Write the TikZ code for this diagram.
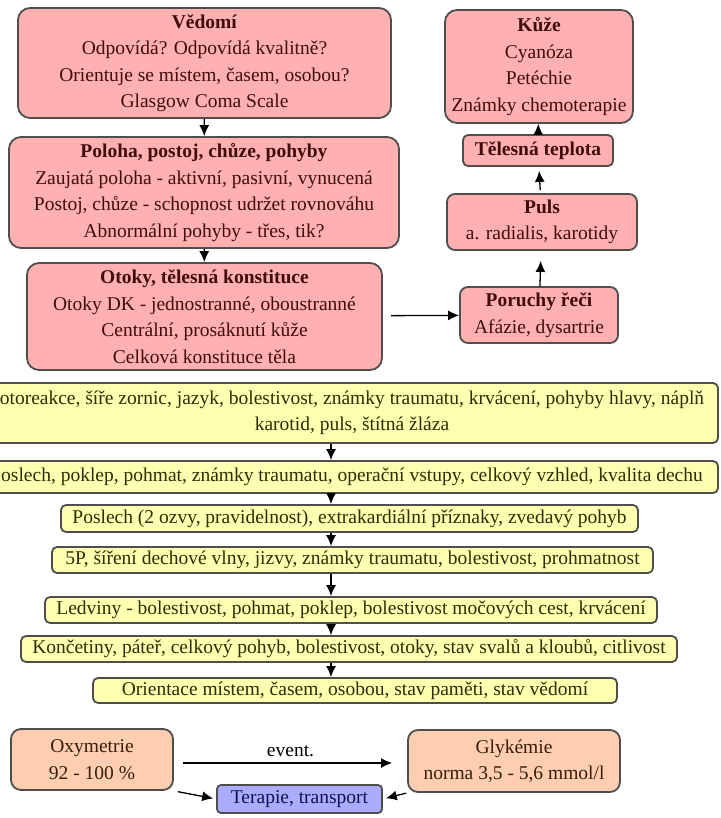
\documentclass[tikz,border=0pt]{standalone}
\usepackage{fontspec}
\setmainfont{Liberation Serif}
\usetikzlibrary{positioning, arrows.meta}

\definecolor{pinkfill}{RGB}{255,176,176}
\definecolor{yellowfill}{RGB}{255,255,178}
\definecolor{orangefill}{RGB}{255,206,176}
\definecolor{bluefill}{RGB}{172,172,255}
\definecolor{boxline}{RGB}{78,78,78}
\definecolor{pinktext}{RGB}{64,12,12}
\definecolor{yellowtext}{RGB}{48,44,0}
\definecolor{orangetext}{RGB}{56,28,10}
\definecolor{bluetext}{RGB}{18,18,78}

\begin{document}
\begin{tikzpicture}[x=1pt, y=-1pt,
    every node/.style={align=center, inner sep=2pt, font=\fontsize{19.5}{26.5}\selectfont},
    box/.style={draw=boxline, line width=1.8pt},
    pinkbox/.style={box, fill=pinkfill, text=pinktext, rounded corners=12pt},
    yellowbox/.style={box, fill=yellowfill, text=yellowtext, rounded corners=5pt},
    orangebox/.style={box, fill=orangefill, text=orangetext, rounded corners=10pt},
    bluebox/.style={box, fill=bluefill, text=bluetext, rounded corners=4pt},
    arr/.style={-{Latex[length=11pt, width=10pt]}, line width=1.3pt}]

    \useasboundingbox (0,0) rectangle (720,818);

    % left column
    \node (ved)  [pinkbox, minimum width=373pt, minimum height=110pt] at (204.5,63)
        {\textbf{Vědomí}\\ Odpovídá? Odpovídá kvalitně?\\ Orientuje se místem, časem, osobou?\\ Glasgow Coma Scale};
    \node (pol)  [pinkbox, minimum width=390pt, minimum height=111pt] at (204,192.5)
        {\textbf{Poloha, postoj, chůze, pohyby}\\ Zaujatá poloha - aktivní, pasivní, vynucená\\ Postoj, chůze - schopnost udržet rovnováhu\\ Abnormální pohyby - třes, tik?};
    \node (oto)  [pinkbox, minimum width=355pt, minimum height=107pt] at (204.5,316.5)
        {\textbf{Otoky, tělesná konstituce}\\ Otoky DK - jednostranné, oboustranné\\ Centrální, prosáknutí kůže\\ Celková konstituce těla};

    % right column
    \node (kuze) [pinkbox, minimum width=188pt, minimum height=113pt] at (539,66.5)
        {\textbf{Kůže}\\ Cyanóza\\ Petéchie\\ Známky chemoterapie};
    \node (tep)  [pinkbox, rounded corners=5pt, minimum width=150pt, minimum height=31pt] at (538,150.5)
        {\textbf{Tělesná teplota}};
    \node (puls) [pinkbox, rounded corners=8pt, minimum width=190pt, minimum height=56pt] at (542,222)
        {\textbf{Puls}\\ a. radialis, karotidy};
    \node (reci) [pinkbox, rounded corners=8pt, minimum width=158pt, minimum height=56pt] at (539,315)
        {\textbf{Poruchy řeči}\\ Afázie, dysartrie};

    % yellow chain
    \node (y1) [yellowbox, minimum width=732pt, minimum height=60pt] at (352,413)
        {otoreakce, šíře zornic, jazyk, bolestivost, známky traumatu, krvácení, pohyby hlavy, náplň\\ karotid, puls, štítná žláza};
    \node (y2) [yellowbox, minimum width=732pt, minimum height=32pt] at (352,477)
        {oslech, poklep, pohmat, známky traumatu, operační vstupy, celkový vzhled, kvalita dechu};
    \node (y3) [yellowbox, minimum width=577pt, minimum height=27pt] at (349.5,518.5)
        {Poslech (2 ozvy, pravidelnost), extrakardiální příznaky, zvedavý pohyb};
    \node (y4) [yellowbox, minimum width=601pt, minimum height=26pt] at (352.5,560)
        {5P, šíření dechové vlny, jizvy, známky traumatu, bolestivost, prohmatnost};
    \node (y5) [yellowbox, minimum width=612pt, minimum height=26pt] at (351,610)
        {Ledviny - bolestivost, pohmat, poklep, bolestivost močových cest, krvácení};
    \node (y6) [yellowbox, minimum width=656pt, minimum height=26pt] at (349,649)
        {Končetiny, páteř, celkový pohyb, bolestivost, otoky, stav svalů a kloubů, citlivost};
    \node (y7) [yellowbox, minimum width=524pt, minimum height=25pt] at (355,690.5)
        {Orientace místem, časem, osobou, stav paměti, stav vědomí};
    \coordinate (axis) at (331,0);

    % bottom row
    \node (oxy) [orangebox, minimum width=162pt, minimum height=61pt] at (92,759.5)
        {Oxymetrie\\ 92 - 100 \%};
    \node (gly) [orangebox, minimum width=212pt, minimum height=62pt] at (514,761)
        {Glykémie\\ norma 3,5 - 5,6 mmol/l};
    \node (ter) [bluebox, minimum width=165pt, minimum height=28pt] at (299.5,799)
        {Terapie, transport};

    \draw[arr] (ved) -- (pol);
    \draw[arr] (pol) -- (oto);
    \draw[arr, shorten <=8pt] (oto) -- (reci);
    \draw[arr, shorten >=10pt] (reci) -- (puls);
    \draw[arr, shorten <=3pt, shorten >=4pt] (puls) -- (tep);
    \draw[arr] (tep) -- (kuze);

    \draw[arr] (y1.south -| axis) -- (y2.north -| axis);
    \draw[arr] (y2.south -| axis) -- (y3.north -| axis);
    \draw[arr] (y3.south -| axis) -- (y4.north -| axis);
    \draw[arr] (y4.south -| axis) -- (y5.north -| axis);
    \draw[arr] (y5.south -| axis) -- (y6.north -| axis);
    \draw[arr] (y6.south -| axis) -- (y7.north -| axis);

    \draw[arr, shorten <=9pt, shorten >=15pt] ([yshift=-3.5pt]oxy.east) -- node[above=4pt, text=black] (event) {event.} ([yshift=-2pt]gly.west);
    \draw[arr, shorten <=4pt, shorten >=3pt] (oxy.south east) -- (ter.west);
    \draw[arr, shorten <=1pt, shorten >=3pt] (gly.south west) -- (ter.east);
\end{tikzpicture}
\end{document}
